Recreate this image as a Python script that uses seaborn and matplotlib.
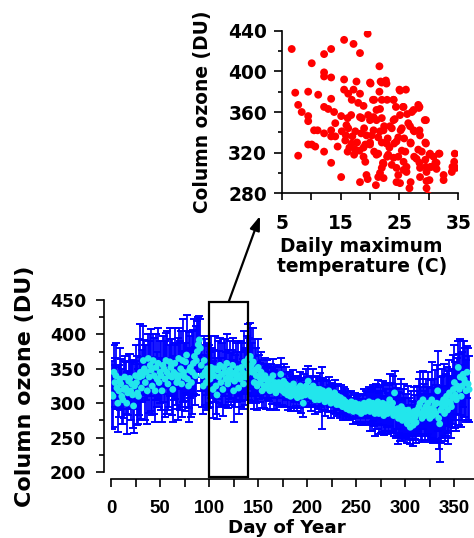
import numpy as np
import seaborn as sns
import matplotlib.pyplot as plt
from matplotlib.patches import Rectangle
from matplotlib.ticker import MultipleLocator

# Daily column ozone (DU), day 1..365
ozone_mean = [
    312, 310, 345, 330, 340, 322, 300, 318, 335, 328,
    310, 305, 320, 338, 322, 300, 315, 332, 336, 318,
    328, 312, 296, 325, 340, 330, 315, 310, 338, 345,
    322, 340, 362, 350, 330, 345, 318, 365, 338, 355,
    348, 325, 362, 340, 318, 352, 335, 358, 330, 345,
    340, 318, 355, 350, 335, 362, 345, 328, 340, 360,
    352, 338, 320, 345, 358, 342, 330, 335, 365, 340,
    350, 328, 362, 345, 338, 360, 370, 335, 325, 348,
    352, 330, 345, 358, 368, 340, 362, 375, 385, 392,
    380, 355, 340, 325, 362, 345, 330, 350, 338, 342,
    335, 352, 345, 320, 340, 350, 325, 312, 348, 338,
    355, 330, 342, 320, 352, 345, 335, 358, 328, 340,
    348, 335, 342, 355, 318, 332, 345, 338, 350, 322,
    340, 335, 352, 345, 328, 360, 338, 342, 355, 365,
    350, 368, 355, 345, 360, 330, 348, 340, 325, 352,
    338, 330, 345, 318, 335, 325, 340, 322, 335, 330,
    328, 318, 335, 325, 340, 320, 330, 315, 328, 322,
    330, 320, 342, 325, 318, 332, 315, 328, 320, 312,
    325, 318, 310, 322, 315, 328, 312, 320, 318, 308,
    322, 315, 325, 310, 318, 300, 320, 312, 325, 318,
    332, 315, 322, 310, 318, 325, 312, 305, 318, 320,
    312, 305, 320, 315, 308, 318, 312, 302, 315, 310,
    305, 318, 310, 300, 312, 308, 302, 315, 305, 298,
    310, 302, 298, 308, 300, 295, 305, 298, 302, 292,
    300, 295, 290, 298, 302, 292, 288, 296, 300, 290,
    294, 288, 298, 292, 285, 296, 290, 300, 288, 295,
    298, 292, 302, 288, 296, 290, 300, 295, 285, 298,
    290, 302, 285, 296, 292, 288, 300, 282, 295, 290,
    298, 285, 292, 305, 288, 295, 300, 282, 315, 290,
    285, 292, 278, 288, 280, 295, 275, 285, 290, 278,
    282, 270, 290, 278, 265, 285, 275, 268, 288, 280,
    272, 290, 285, 295, 300, 285, 278, 305, 290, 282,
    295, 288, 300, 285, 278, 292, 305, 282, 290, 298,
    285, 300, 318, 278, 270, 290, 300, 295, 305, 285,
    298, 310, 290, 302, 315, 300, 295, 308, 320, 330,
    312, 305, 325, 352, 320, 338, 310, 325, 342, 335,
    330, 318, 345, 328, 320,
]
ozone_err = [
    50, 45, 40, 35, 48, 30, 42, 38, 45, 36,
    40, 35, 42, 30, 38, 45, 32, 40, 36, 42,
    35, 48, 40, 32, 44, 38, 46, 40, 55, 70,
    45, 38, 50, 42, 55, 40, 48, 35, 52, 45,
    60, 42, 38, 55, 45, 48, 40, 52, 36, 45,
    50, 45, 42, 48, 55, 40, 60, 38, 45, 50,
    42, 55, 48, 40, 52, 45, 38, 60, 45, 50,
    55, 48, 60, 42, 50, 45, 58, 40, 52, 55,
    45, 50, 60, 48, 55, 42, 50, 45, 40, 35,
    42, 38, 45, 40, 35, 48, 40, 38, 45, 42,
    40, 45, 35, 42, 38, 48, 40, 35, 42, 38,
    40, 35, 45, 38, 42, 48, 40, 42, 35, 38,
    42, 38, 35, 40, 45, 38, 42, 36, 40, 38,
    35, 40, 38, 42, 36, 45, 40, 38, 42, 50,
    45, 48, 55, 42, 50, 38, 45, 40, 35, 42,
    32, 28, 30, 25, 28, 32, 26, 30, 28, 25,
    25, 28, 22, 26, 24, 28, 22, 25, 28, 24,
    22, 26, 24, 28, 22, 25, 20, 24, 26, 22,
    20, 24, 22, 18, 22, 20, 24, 18, 22, 20,
    18, 22, 20, 24, 18, 20, 22, 18, 25, 20,
    22, 20, 18, 22, 20, 24, 18, 20, 22, 18,
    20, 18, 24, 20, 45, 18, 22, 20, 18, 22,
    18, 20, 16, 22, 18, 20, 16, 18, 20, 16,
    18, 16, 20, 18, 16, 20, 18, 16, 18, 16,
    18, 16, 15, 18, 16, 15, 18, 16, 15, 18,
    16, 18, 15, 20, 16, 18, 22, 20, 18, 22,
    20, 24, 22, 28, 25, 30, 26, 28, 32, 30,
    28, 32, 30, 28, 35, 30, 32, 28, 35, 30,
    32, 30, 35, 38, 32, 35, 40, 30, 32, 38,
    35, 30, 38, 32, 35, 40, 30, 35, 38, 30,
    32, 28, 35, 30, 25, 32, 28, 30, 35, 32,
    30, 35, 32, 40, 45, 38, 35, 42, 38, 35,
    40, 35, 45, 38, 35, 42, 55, 40, 45, 50,
    42, 55, 58, 45, 55, 48, 50, 45, 52, 40,
    45, 42, 50, 45, 48, 40, 45, 42, 50, 55,
    48, 45, 40, 38, 52, 55, 45, 50, 48, 55,
    50, 45, 38, 52, 48,
]
days = list(range(1, len(ozone_mean) + 1))

# Daily maximum temperature (C) vs column ozone (DU)
temp_max = [
    6.7, 7.3, 7.8, 7.8, 8.4, 9.5, 9.5, 9.5, 9.5, 10.1, 10.1, 10.5, 10.7, 11.1, 11.2,
    12.2, 12.2, 12.2, 12.2, 12.2, 12.2, 12.9, 13.4, 13.4, 13.4, 13.4, 13.4, 13.4,
    13.9, 14.1, 14.1, 14.5, 15.1, 15.1, 15.2, 15.6, 15.6, 15.6, 15.8, 15.9, 16.2,
    16.2, 16.3, 16.3, 16.8, 16.9, 16.9, 17.2, 17.2, 17.5, 17.5, 17.7, 18.0, 18.3,
    18.3, 18.5, 18.3, 18.6, 18.9, 18.9, 19.2, 19.2, 19.6, 19.6, 19.7, 20.0, 20.1,
    20.3, 20.5, 20.6, 20.7, 21.0, 21.1, 21.4, 21.6, 21.6, 21.7, 21.7, 21.8, 22.0,
    22.0, 22.2, 22.3, 22.4, 22.7, 22.8, 22.8, 22.9, 23.1, 23.4, 23.7, 24.0, 24.0,
    24.1, 24.4, 24.5, 24.8, 24.8, 25.0, 25.1, 25.1, 25.4, 25.6, 25.7, 26.0, 26.1,
    26.2, 26.3, 26.7, 26.8, 26.9, 27.4, 27.5, 27.9, 28.2, 28.3, 28.4, 28.4, 28.5,
    28.8, 29.3, 29.5, 29.5, 29.6, 29.9, 30.1, 30.1, 30.3, 30.8, 31.1, 31.3, 31.8,
    32.5, 33.9, 34.4, 34.6,
    20.0, 22.0, 25.1, 20.7, 24.0, 25.7, 28.4, 27.1, 21.7, 18.3, 20.0, 21.1, 24.2,
    29.5, 26.5, 20.6, 22.3, 23.7, 25.2, 27.4, 28.5, 19.4, 21.4, 23.0, 25.8, 24.5,
    20.0, 22.0, 26.9, 29.4, 23.3, 18.9, 25.4, 28.2, 30.2, 21.1, 22.9, 24.0, 27.5,
    29.4, 31.3, 22.3, 25.7, 30.4, 28.5, 22.0, 24.5, 26.2, 29.6, 32.5, 19.4, 24.8,
    21.4, 29.6, 26.9, 34.0, 34.3, 31.7,
    16.5, 17.0, 17.8, 18.2, 19.0, 16.0, 17.3,
]
ozone_pts = [
    422, 379, 367, 317, 360, 380, 356, 351, 328, 408, 328, 342, 326, 342, 377,
    417, 399, 395, 365, 339, 321, 363, 422, 394, 373, 342, 336, 310,
    360, 349, 336, 326, 356, 296, 341, 431, 392, 382, 332, 337, 354,
    321, 378, 344, 357, 372, 329, 427, 382, 323, 341, 390, 369, 418,
    378, 339, 291, 354, 366, 316, 328, 311, 437, 294, 357, 328, 388,
    337, 372, 355, 321, 288, 362, 319, 405, 380, 341, 300, 390, 372,
    354, 310, 295, 346, 391, 388, 329, 372, 318, 346, 308, 372, 352,
    329, 365, 291, 335, 316, 382, 290, 357, 344, 365, 303, 321, 382,
    301, 358, 285, 346, 329, 362, 341, 314, 367, 364, 342, 310, 296,
    321, 352, 329, 306, 285, 278, 293, 318, 306, 316, 310, 304, 319,
    293, 301, 319, 305,
    389, 389, 381, 372, 372, 365, 365, 360, 363, 355, 352, 352, 353,
    352, 349, 342, 342, 344, 342, 342, 337, 337, 335, 334, 334, 331,
    330, 330, 330, 330, 325, 325, 322, 323, 319, 318, 316, 315, 316,
    313, 310, 309, 311, 306, 305, 305, 305, 306, 301, 298, 298, 298,
    296, 292, 291, 306, 311, 319,
    325, 336, 330, 322, 344, 347, 318,
]

sns.set_style("ticks")
plt.rcParams["font.family"] = ["DejaVu Sans"]
plt.rcParams["font.weight"] = "bold"
plt.rcParams["axes.labelweight"] = "bold"
plt.rcParams["axes.linewidth"] = 1.2
for key in ["text.color", "axes.labelcolor", "xtick.color", "ytick.color", "axes.edgecolor"]:
    plt.rcParams[key] = "black"

fig = plt.figure(figsize=(4.74, 5.38), dpi=100)

# ---- inset scatter: temperature vs ozone
ax1 = fig.add_axes([0.5943, 0.6407, 0.3726, 0.3022])
sns.scatterplot(x=temp_max, y=ozone_pts, ax=ax1, color="#FF0000", s=32,
                edgecolor="none", linewidth=0, zorder=3)
ax1.set_xlim(5, 35)
ax1.set_ylim(280, 440)
ax1.xaxis.set_minor_locator(MultipleLocator(5))
ax1.set_xticks([5, 15, 25, 35])
ax1.yaxis.set_major_locator(MultipleLocator(40))
ax1.yaxis.set_minor_locator(MultipleLocator(20))
for s in ["top", "right"]:
    ax1.spines[s].set_visible(False)
ax1.tick_params(axis="y", which="major", length=6, width=1.2, labelsize=13.4, pad=4.5)
ax1.tick_params(axis="y", which="minor", length=3, width=1.2)
ax1.tick_params(axis="x", which="both", length=5, width=1.2, labelsize=13.4, pad=10)
ax1.set_ylabel("Column ozone (DU)", fontsize=13.4, labelpad=12)
ax1.set_xlabel("Daily maximum\ntemperature (C)", fontsize=13.4, linespacing=1.05)
ax1.xaxis.set_label_coords(0.453, -0.27)
ax1.xaxis.label.set_va("top")

# ---- main panel: ozone by day of year
ax2 = fig.add_axes([0.2342, 0.1227, 0.7658, 0.3197])
ax2.errorbar(days, ozone_mean, yerr=ozone_err, fmt="none", ecolor="#0000FF",
             elinewidth=1.3, capsize=3.2, capthick=1.4, zorder=2)
sns.scatterplot(x=days, y=ozone_mean, ax=ax2, color="#22E6EC", s=24,
                edgecolor="none", linewidth=0, zorder=3)
ax2.set_xlim(0, 370)
ax2.set_ylim(200, 450)
ax2.xaxis.set_major_locator(MultipleLocator(50))
ax2.xaxis.set_minor_locator(MultipleLocator(25))
ax2.yaxis.set_major_locator(MultipleLocator(50))
ax2.yaxis.set_minor_locator(MultipleLocator(25))
for s in ["top", "right"]:
    ax2.spines[s].set_visible(False)
ax2.spines["left"].set_position(("outward", 5))
ax2.spines["bottom"].set_position(("outward", 5))
ax2.spines["left"].set_bounds(200, 450)
ax2.tick_params(axis="y", which="major", length=6, width=1.2, labelsize=12.5, pad=7)
ax2.tick_params(axis="y", which="minor", length=3.5, width=1.2)
ax2.tick_params(axis="x", which="both", length=6, width=1.2, pad=9)
for lab in ax2.get_xticklabels():
    lab.set_family("Liberation Sans")
    lab.set_fontsize(13.5)
    lab.set_weight("bold")
ax2.set_xlabel("Day of Year", fontsize=13.2)
ax2.xaxis.set_label_coords(0.485, -0.275)
ax2.xaxis.label.set_va("top")
ax2.set_ylabel("Column ozone (DU)", fontsize=16)
ax2.yaxis.set_label_coords(-0.209, 0.5)

# selection box (days 100-140) and arrow to the inset
ax2.add_patch(Rectangle((100, 192.7), 40, 447.5 - 192.7, fill=False,
                        edgecolor="black", linewidth=1.6, clip_on=False, zorder=4))
ax2.annotate("", xy=(260 / 474, 1 - 216 / 538), xycoords="figure fraction",
             xytext=(120, 447.5), textcoords="data",
             arrowprops=dict(arrowstyle="-|>,head_length=0.7,head_width=0.25",
                             color="black", lw=1.6, mutation_scale=12,
                             shrinkA=0, shrinkB=0))

fig.savefig("out.png", dpi=100)
